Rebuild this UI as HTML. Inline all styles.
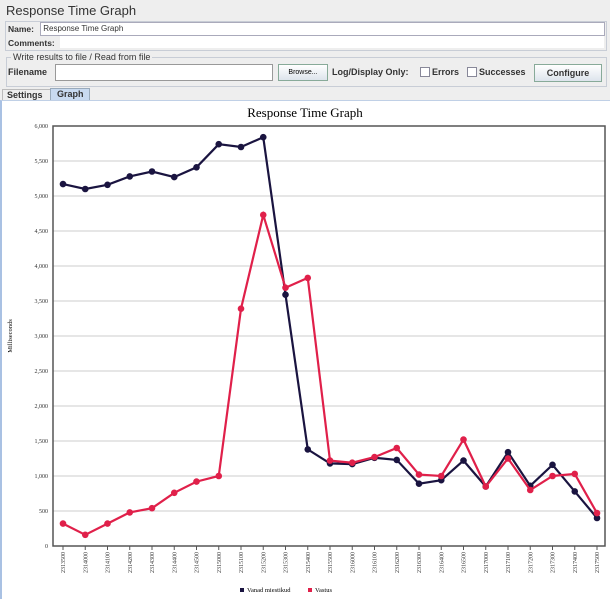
<!DOCTYPE html>
<html><head><style>
body{margin:0;width:610px;height:599px;background:#eeeeee;font-family:"Liberation Sans","DejaVu Sans",sans-serif;overflow:hidden;position:relative}
.a{position:absolute;white-space:nowrap}
</style></head><body>
<div class="a" style="left:6px;top:3px;font-size:13px;color:#333">Response Time Graph</div>
<div class="a" style="left:5px;top:21px;width:600px;height:28px;border:1px solid #c8cdd6;background:#eee"></div>
<div class="a" style="left:8px;top:24px;font-size:8.5px;font-weight:bold;color:#333">Name:</div>
<div class="a" style="left:40px;top:22px;width:563px;height:12px;border:1px solid #aab;background:#fff;font-size:8px;line-height:12px;color:#333">&nbsp;Response Time Graph</div>
<div class="a" style="left:8px;top:38px;font-size:8.5px;font-weight:bold;color:#333">Comments:</div>
<div class="a" style="left:60px;top:36px;width:544px;height:12px;background:#fff"></div>
<div class="a" style="left:6px;top:57px;width:599px;height:28px;border:1px solid #c8cdd6"></div>
<div class="a" style="left:11px;top:52px;font-size:9px;color:#333;background:#eee;padding:0 2px">Write results to file / Read from file</div>
<div class="a" style="left:8px;top:67px;font-size:9px;font-weight:bold;color:#333">Filename</div>
<div class="a" style="left:55px;top:64px;width:216px;height:15px;border:1px solid #999;background:#fff"></div>
<div class="a" style="left:278px;top:64px;width:48px;height:15px;border:1px solid #8a9;background:linear-gradient(#fff,#dde4ec);font-size:7px;line-height:15px;text-align:center">Browse...</div>
<div class="a" style="left:332px;top:67px;font-size:9px;font-weight:bold;color:#333">Log/Display Only:</div>
<div class="a" style="left:420px;top:67px;width:8px;height:8px;border:1px solid #889;background:#fff"></div>
<div class="a" style="left:432px;top:67px;font-size:9px;font-weight:bold;color:#333">Errors</div>
<div class="a" style="left:467px;top:67px;width:8px;height:8px;border:1px solid #889;background:#fff"></div>
<div class="a" style="left:479px;top:67px;font-size:9px;font-weight:bold;color:#333">Successes</div>
<div class="a" style="left:534px;top:64px;width:66px;height:16px;border:1px solid #8a9;background:linear-gradient(#fff,#dde4ec);font-size:9px;font-weight:bold;line-height:16px;text-align:center;color:#333">Configure</div>
<div class="a" style="left:2px;top:89px;width:45px;height:11px;border:1px solid #bbb;border-bottom:none;font-size:9px;font-weight:bold;color:#333;padding-left:4px">Settings</div>
<div class="a" style="left:50px;top:88px;width:32px;height:12px;border:1px solid #9ab;border-bottom:none;background:#c8daf0;font-size:9px;font-weight:bold;color:#333;padding-left:6px">Graph</div>
<div class="a" style="left:0;top:100px;width:610px;height:499px;background:#fff;border-left:2px solid #a9c1e3;border-top:1px solid #c0d0e6;box-sizing:border-box"></div>
<svg class="a" style="left:0;top:0" width="610" height="599" font-family="Liberation Serif,serif">
<text x="305" y="117" text-anchor="middle" font-size="13">Response Time Graph</text>
<g id="grid" stroke="#ccc" stroke-width="1"></g>
<g id="lab" font-size="6" fill="#333"></g>
<rect x="53" y="126" width="552" height="420" fill="none" stroke="#555" stroke-width="1.5"/>
<text transform="translate(12,336) rotate(-90)" font-size="6.5" text-anchor="middle">Milliseconds</text>
<g id="s"></g>
<rect x="240" y="588" width="4" height="4" fill="#1a1440"/><text x="247" y="592" font-size="6.5">Vanad miestikud</text>
<rect x="308" y="588" width="4" height="4" fill="#e0204a"/><text x="315" y="592" font-size="6.5">Vastus</text>
</svg>
<script>
var ns="http://www.w3.org/2000/svg",g=document.getElementById('grid'),l=document.getElementById('lab'),s=document.getElementById('s');
function el(p,t,a,tx){var e=document.createElementNS(ns,t);for(var k in a)e.setAttribute(k,a[k]);if(tx)e.textContent=tx;p.appendChild(e);return e}
for(var v=0;v<=6000;v+=500){var y=546-v*0.07;if(v>0&&v<6000)el(g,'line',{x1:53,x2:605,y1:y,y2:y});el(l,'text',{x:48,y:y+2,'text-anchor':'end'},v.toLocaleString('en-US'))}
var labs=[];for(var h=13;h<=17;h++)for(var m=0;m<60;m+=10){var t=h*100+m;if(t>=1350&&t<=1750)labs.push('23'+t+'0')}
var X=function(i){return 63+i*22.25},Y=function(v){return 546-v*0.07};
labs.forEach(function(t,i){var x=X(i);el(l,'line',{x1:x,x2:x,y1:546,y2:550,stroke:'#555'});el(l,'text',{transform:'translate('+(x+2)+',552) rotate(-90)','text-anchor':'end'},t)});
var d=[5170,5100,5160,5280,5350,5270,5410,5740,5700,5840,3590,1380,1180,1170,1260,1230,890,940,1220,850,1340,860,1160,780,400];
var r=[320,160,320,480,540,760,920,1000,3390,4730,3690,3830,1220,1190,1270,1400,1020,1000,1520,850,1250,800,1000,1030,470];
[[d,'#1a1440'],[r,'#e0204a']].forEach(function(q){el(s,'polyline',{points:q[0].map(function(v,i){return X(i)+','+Y(v)}).join(' '),fill:'none',stroke:q[1],'stroke-width':2.2});q[0].forEach(function(v,i){el(s,'circle',{cx:X(i),cy:Y(v),r:3.3,fill:q[1]})})});
</script>
</body></html>
